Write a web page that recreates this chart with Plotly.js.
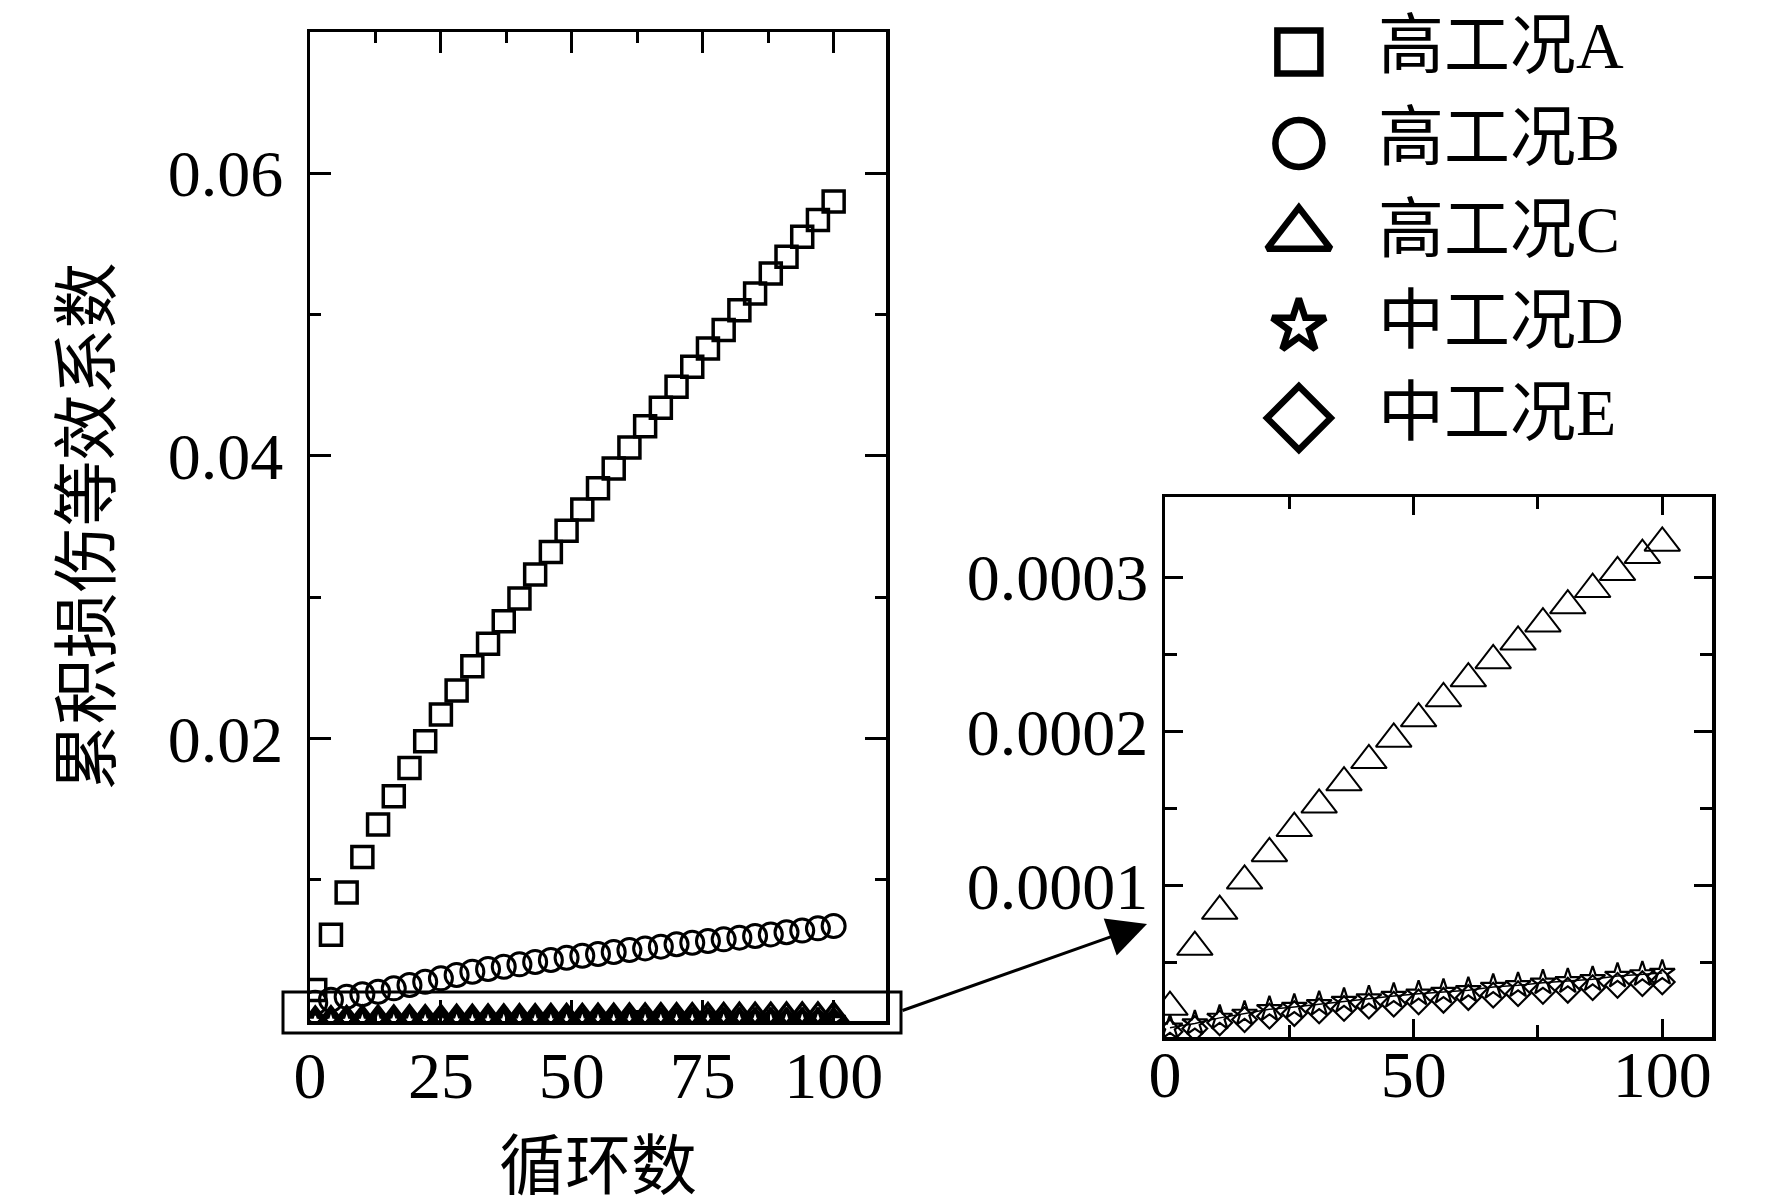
<!DOCTYPE html>
<html>
<head>
<meta charset="utf-8">
<script src="https://cdn.plot.ly/plotly-3.0.1.min.js"></script>
<style>
html,body{margin:0;padding:0;background:#ffffff;}
#chart{width:1772px;height:1203px;}
</style>
</head>
<body>
<div id="chart"></div>
<script>
// ---------- data ----------
const cyclesMain = [1,4,7,10,13,16,19,22,25,28,31,34,37,40,43,46,49,52,55,58,61,64,67,70,73,76,79,82,85,88,91,94,97,100];
const seriesA = [0.0022,0.0061,0.0091,0.0116,0.0139,0.0159,0.0179,0.0198,0.0217,0.0234,0.0251,0.0267,0.0283,0.0299,0.0316,0.0332,0.0347,0.0362,0.0377,0.0391,0.0406,0.0421,0.0434,0.0449,0.0463,0.0476,0.0489,0.0503,0.0515,0.0529,0.0541,0.0555,0.0567,0.0580];
const seriesB = [0.0013,0.0015,0.00172,0.00189,0.00207,0.00231,0.00255,0.00278,0.00302,0.00326,0.00349,0.00368,0.00384,0.00401,0.00418,0.00432,0.00448,0.00462,0.00474,0.00488,0.00502,0.00514,0.00526,0.00543,0.00554,0.00566,0.00578,0.0059,0.00602,0.00613,0.00628,0.0064,0.00656,0.00672];
const seriesC = [0.000021,0.000045,0.000065,0.000080,0.000091,0.000103,0.000114,0.000124,0.000134,0.000143,0.000152,0.000161,0.000170,0.000178,0.000187,0.000195,0.000203,0.000211,0.000219,0.000226,0.000234,0.000241,0.000249,0.000256,0.000263,0.000270,0.000277,0.000284,0.000290,0.000297,0.000303,0.000310,0.000316,0.000322];
const seriesD = [0.0000080,0.0000095,0.0000115,0.0000137,0.0000154,0.0000170,0.0000188,0.0000203,0.0000212,0.0000222,0.0000233,0.0000246,0.0000257,0.0000266,0.0000276,0.0000286,0.0000295,0.0000303,0.0000310,0.0000316,0.0000323,0.0000336,0.0000346,0.0000353,0.0000362,0.0000372,0.0000377,0.0000383,0.0000391,0.0000403,0.0000416,0.0000422,0.0000428,0.0000435];
const seriesE = [0.0000054,0.0000066,0.0000082,0.0000105,0.0000120,0.0000133,0.0000146,0.0000158,0.0000169,0.0000179,0.0000189,0.0000199,0.0000208,0.0000217,0.0000225,0.0000233,0.0000242,0.0000250,0.0000256,0.0000265,0.0000276,0.0000285,0.0000293,0.0000299,0.0000307,0.0000316,0.0000320,0.0000326,0.0000337,0.0000346,0.0000355,0.0000362,0.0000369,0.0000377];

const cyclesInset = [1,6,11,16,21,26,31,36,41,46,51,56,61,66,71,76,81,86,91,96,100];
const insetC = [0.0000214,0.0000603,0.0000836,0.0001032,0.000121,0.0001373,0.0001525,0.0001669,0.0001813,0.0001952,0.0002084,0.0002214,0.0002343,0.0002461,0.0002581,0.0002699,0.0002816,0.0002922,0.0003032,0.0003143,0.0003222];
const insetD = [0.0000080,0.0000108,0.0000144,0.0000170,0.0000200,0.0000215,0.0000233,0.0000254,0.0000269,0.0000286,0.0000301,0.0000312,0.0000323,0.0000344,0.0000355,0.0000372,0.0000381,0.0000394,0.0000416,0.0000426,0.0000435];
const insetE = [0.0000054,0.0000075,0.0000112,0.0000133,0.0000155,0.0000172,0.0000189,0.0000205,0.0000220,0.0000233,0.0000248,0.0000258,0.0000276,0.0000291,0.0000301,0.0000316,0.0000323,0.0000340,0.0000355,0.0000366,0.0000377];

const legendLabels = ['高工况A','高工况B','高工况C','中工况D','中工况E'];
const xTitleText = '循环数';
const yTitleText = '累积损伤等效系数';
const mainXTicks = [0,25,50,75,100];
const mainXMinor = [12.5,37.5,62.5,87.5];
const mainYTicks = [0.02,0.04,0.06];
const mainYMinor = [0.01,0.03,0.05];
const insetXTicks = [0,50,100];
const insetXMinor = [25,75];
const insetYTicks = [0.0001,0.0002,0.0003];
const insetYMinor = [0.00005,0.00015,0.00025];

// ---------- styling ----------
const W = 1772, H = 1203;
const numFont = 'Liberation Serif, "Times New Roman", serif';
const cjkFont = '"Liberation Serif", "Noto Sans CJK SC", serif';
const K = 'black';
const symbols = ['square-open','circle-open','triangle-up-open','star-open','diamond-open'];

function px(x){return x/W;}
function py(y){return 1 - y/H;}

const traces = [];
// left main plot
traces.push({x:cyclesMain,y:seriesC,xaxis:'x',yaxis:'y',mode:'markers',type:'scatter',
  marker:{symbol:'triangle-up-open',size:27,color:K,line:{width:3.5,color:K}}});
traces.push({x:cyclesMain,y:seriesD,xaxis:'x',yaxis:'y',mode:'markers',type:'scatter',
  marker:{symbol:'star-open',size:18,color:K,line:{width:3.5,color:K}}});
traces.push({x:cyclesMain,y:seriesE,xaxis:'x',yaxis:'y',mode:'markers',type:'scatter',
  marker:{symbol:'diamond-open',size:17,color:K,line:{width:3.5,color:K}}});
traces.push({x:cyclesMain,y:seriesB,xaxis:'x',yaxis:'y',mode:'markers',type:'scatter',
  marker:{symbol:'circle-open',size:23,color:K,line:{width:3,color:K}}});
traces.push({x:cyclesMain,y:seriesA,xaxis:'x',yaxis:'y',mode:'markers',type:'scatter',
  marker:{symbol:'square-open',size:21,color:K,line:{width:3.5,color:K}}});

// inset plot
traces.push({x:cyclesInset,y:insetC,xaxis:'x2',yaxis:'y2',mode:'markers',type:'scatter',
  marker:{symbol:'triangle-up-open',size:31,color:K,line:{width:2,color:K}}});
traces.push({x:cyclesInset,y:insetE,xaxis:'x2',yaxis:'y2',mode:'markers',type:'scatter',
  marker:{symbol:'diamond-open',size:19,color:K,line:{width:2.2,color:K}}});
traces.push({x:cyclesInset,y:insetD,xaxis:'x2',yaxis:'y2',mode:'lines+markers',type:'scatter',
  line:{width:1.5,color:K},
  marker:{symbol:'star-open',size:19,color:K,line:{width:2.2,color:K}}});

// legend (drawn in its own hidden axes)
const legendSizes = [43,47,55,40,49];
legendLabels.forEach(function(lbl,i){
  traces.push({x:[0.128],y:[i],xaxis:'x3',yaxis:'y3',mode:'markers',type:'scatter',
    marker:{symbol:symbols[i],size:legendSizes[i],color:K,line:{width:6.5,color:K}}});
});
traces.push({x:legendLabels.map(function(){return 0.30;}),y:legendLabels.map(function(_,i){return i;}),
  xaxis:'x3',yaxis:'y3',mode:'text',type:'scatter',text:legendLabels,textposition:'middle right',
  textfont:{family:cjkFont,size:66,color:K}});

const baseAxis = {
  showline:true, linecolor:K, linewidth:3.5, mirror:'ticks', ticks:'inside', tickcolor:K,
  tickwidth:3, showgrid:false, zeroline:false, automargin:false, fixedrange:true,
  tickfont:{family:numFont,size:66,color:K}
};

const layout = {
  width:W, height:H, margin:{l:0,r:0,t:0,b:0,pad:0},
  paper_bgcolor:'#ffffff', plot_bgcolor:'rgba(0,0,0,0)', showlegend:false, hovermode:false,
  xaxis:Object.assign({}, baseAxis, {domain:[px(310),px(886)], range:[0,110], anchor:'y',
    tickmode:'array', tickvals:mainXTicks, ticklen:21, ticklabelstandoff:-6,
    minor:{tickmode:'array', tickvals:mainXMinor, ticks:'inside', ticklen:11, tickwidth:3, tickcolor:K, showgrid:false},
    title:{text:xTitleText, font:{family:cjkFont,size:66,color:K}, standoff:38}}),
  yaxis:Object.assign({}, baseAxis, {domain:[py(1021),py(32)], range:[0,0.07], anchor:'x',
    tickmode:'array', tickvals:mainYTicks, tickformat:'.2f', ticklen:21, ticklabelstandoff:10,
    minor:{tickmode:'array', tickvals:mainYMinor, ticks:'inside', ticklen:11, tickwidth:3, tickcolor:K, showgrid:false},
    title:{text:yTitleText, font:{family:cjkFont,size:66,color:K}, standoff:36}}),
  xaxis2:Object.assign({}, baseAxis, {domain:[px(1165),px(1712)], range:[0,110], anchor:'y2',
    tickmode:'array', tickvals:insetXTicks, ticklen:18, ticklabelstandoff:-23,
    minor:{tickmode:'array', tickvals:insetXMinor, ticks:'inside', ticklen:12, tickwidth:3, tickcolor:K, showgrid:false}}),
  yaxis2:Object.assign({}, baseAxis, {domain:[py(1037),py(497)], range:[0.000002,0.000352], anchor:'x2',
    tickmode:'array', tickvals:insetYTicks, tickformat:'.4f', ticklen:18, ticklabelstandoff:0,
    minor:{tickmode:'array', tickvals:insetYMinor, ticks:'inside', ticklen:12, tickwidth:3, tickcolor:K, showgrid:false}}),
  xaxis3:{domain:[px(1240),px(1700)], range:[0,1], anchor:'y3', visible:false, fixedrange:true},
  yaxis3:{domain:[py(470),py(0)], range:[4.568,-0.568], anchor:'x3', visible:false, fixedrange:true},
  shapes:[
    {type:'rect', xref:'paper', yref:'paper', x0:px(283), x1:px(901), y0:py(1033), y1:py(992),
     line:{color:K,width:3}, fillcolor:'rgba(0,0,0,0)'}
  ],
  annotations:[
    {xref:'paper', yref:'paper', x:px(1147), y:py(924), axref:'pixel', ayref:'pixel',
     ax:901-1147, ay:1011-924, text:'', showarrow:true, arrowhead:2, arrowsize:2.6,
     arrowwidth:3, arrowcolor:K, standoff:0, startstandoff:0}
  ]
};

Plotly.newPlot('chart', traces, layout, {displayModeBar:false, staticPlot:true});
</script>
</body>
</html>
